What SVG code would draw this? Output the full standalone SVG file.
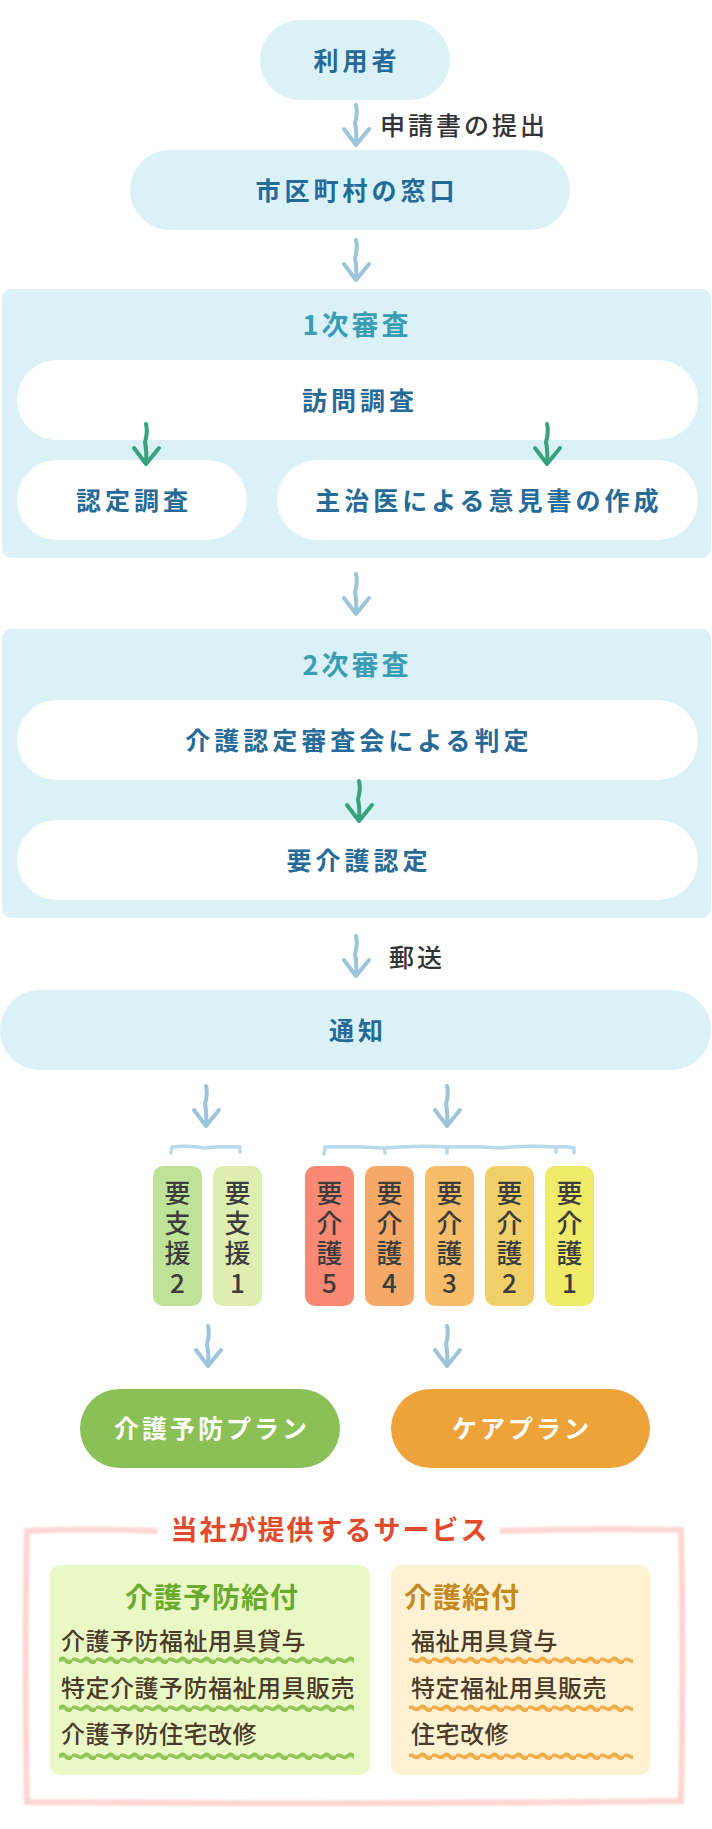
<svg xmlns="http://www.w3.org/2000/svg" width="712" height="1829" viewBox="0 0 712 1829">
<style>
text{font-family:"Noto Sans CJK JP","Noto Sans",sans-serif;}
.lbl{font-size:25px;font-weight:700;fill:#266a97;letter-spacing:4px;text-anchor:middle;}
.side{font-size:25px;font-weight:500;fill:#333333;letter-spacing:3px;}
.ttl{font-size:27px;font-weight:700;fill:#3a9db4;letter-spacing:3px;text-anchor:middle;}
.pale{fill:#d9f1f7;}
.white{fill:#ffffff;}
.card{font-size:26px;font-weight:500;fill:#3c3c3c;writing-mode:vertical-rl;text-orientation:upright;}
.plan{font-size:25px;font-weight:700;fill:#ffffff;letter-spacing:3px;text-anchor:middle;}
.item{font-size:24px;font-weight:500;fill:#4b3b28;letter-spacing:0.5px;}
.arB{fill:none;stroke:#9cc4da;stroke-width:4;stroke-linecap:round;stroke-linejoin:round;filter:url(#soft);}
.arG{fill:none;stroke:#37a27b;stroke-width:4;stroke-linecap:round;stroke-linejoin:round;filter:url(#soft);}
.brk{fill:none;stroke:#b9d8ea;stroke-width:3.5;stroke-linecap:round;stroke-linejoin:round;filter:url(#soft);}
</style>
<defs>
<filter id="soft" x="-50%" y="-50%" width="200%" height="200%"><feGaussianBlur stdDeviation="0.7"/></filter>
<filter id="soft2" x="-10%" y="-10%" width="120%" height="120%"><feGaussianBlur stdDeviation="1.1"/></filter>
<pattern id="waveG" width="24" height="8" patternUnits="userSpaceOnUse"><path d="M0,4 Q3,2.3 6,4.4 T12,3.6 T18,4.6 T24,4" fill="none" stroke="#8dc352" stroke-width="3.6"/><path d="M0,4.5 Q4,3 8,4 T16,4.6 T24,4.5" fill="none" stroke="#9ccc62" stroke-width="2" opacity="0.7"/></pattern>
<pattern id="waveO" width="24" height="8" patternUnits="userSpaceOnUse"><path d="M0,4 Q3,2.3 6,4.4 T12,3.6 T18,4.6 T24,4" fill="none" stroke="#f1a944" stroke-width="3.6"/><path d="M0,4.5 Q4,3 8,4 T16,4.6 T24,4.5" fill="none" stroke="#f4b65c" stroke-width="2" opacity="0.7"/></pattern>
<path id="arrow" d="M0,0 Q2,8 -1,18 Q1,28 0,40 M-12,24 L0,40 L13,24"/>
</defs>

<rect width="712" height="1829" fill="#ffffff"/>

<g id="user"><rect class="pale" x="260" y="20" width="190" height="80" rx="40"/><text class="lbl" x="357" y="69.5">利用者</text></g>
<g id="window"><rect class="pale" x="130" y="150" width="440" height="80" rx="40"/><text class="lbl" x="357" y="199.5">市区町村の窓口</text></g>

<g id="review1">
<rect class="pale" x="2" y="289" width="709" height="269" rx="9"/>
<text class="ttl" x="357" y="335">1次審査</text>
<g id="visit"><rect class="white" x="17" y="360" width="681" height="80" rx="40"/><text class="lbl" x="360" y="409.5">訪問調査</text></g>
<g id="nintei"><rect class="white" x="17" y="460" width="230" height="80" rx="40"/><text class="lbl" x="134" y="509.5">認定調査</text></g>
<g id="doctor"><rect class="white" x="277" y="460" width="421" height="80" rx="40"/><text class="lbl" x="489" y="509.5">主治医による意見書の作成</text></g>
</g>

<g id="review2">
<rect class="pale" x="2" y="629" width="709" height="289" rx="9"/>
<text class="ttl" x="357" y="675">2次審査</text>
<g id="judge"><rect class="white" x="17" y="700" width="681" height="80" rx="40"/><text class="lbl" x="359" y="749.5">介護認定審査会による判定</text></g>
<g id="certified"><rect class="white" x="17" y="820" width="681" height="80" rx="40"/><text class="lbl" x="359" y="869.5">要介護認定</text></g>
</g>

<g id="notice"><rect class="pale" x="0" y="990" width="711" height="80" rx="40"/><text class="lbl" x="358" y="1039.5">通知</text></g>

<g id="levels">
<g id="shien2"><rect x="153" y="1166" width="49" height="140" rx="10" fill="#bee298"/><text class="card" x="177.5" y="1180">要</text><text class="card" x="177.5" y="1210">支</text><text class="card" x="177.5" y="1240">援</text><text class="card" x="177.5" y="1270">2</text></g>
<g id="shien1"><rect x="213" y="1166" width="49" height="140" rx="10" fill="#dfeeb0"/><text class="card" x="237.5" y="1180">要</text><text class="card" x="237.5" y="1210">支</text><text class="card" x="237.5" y="1240">援</text><text class="card" x="237.5" y="1270">1</text></g>
<g id="kaigo5"><rect x="305" y="1166" width="49" height="140" rx="10" fill="#fc8973"/><text class="card" x="329.5" y="1180">要</text><text class="card" x="329.5" y="1210">介</text><text class="card" x="329.5" y="1240">護</text><text class="card" x="329.5" y="1270">5</text></g>
<g id="kaigo4"><rect x="365" y="1166" width="49" height="140" rx="10" fill="#f6a866"/><text class="card" x="389.5" y="1180">要</text><text class="card" x="389.5" y="1210">介</text><text class="card" x="389.5" y="1240">護</text><text class="card" x="389.5" y="1270">4</text></g>
<g id="kaigo3"><rect x="425" y="1166" width="49" height="140" rx="10" fill="#f7bd69"/><text class="card" x="449.5" y="1180">要</text><text class="card" x="449.5" y="1210">介</text><text class="card" x="449.5" y="1240">護</text><text class="card" x="449.5" y="1270">3</text></g>
<g id="kaigo2"><rect x="485" y="1166" width="49" height="140" rx="10" fill="#f1d06a"/><text class="card" x="509.5" y="1180">要</text><text class="card" x="509.5" y="1210">介</text><text class="card" x="509.5" y="1240">護</text><text class="card" x="509.5" y="1270">2</text></g>
<g id="kaigo1"><rect x="545" y="1166" width="49" height="140" rx="10" fill="#efea67"/><text class="card" x="569.5" y="1180">要</text><text class="card" x="569.5" y="1210">介</text><text class="card" x="569.5" y="1240">護</text><text class="card" x="569.5" y="1270">1</text></g>
</g>

<g id="preventPlan"><rect x="80" y="1389" width="260" height="79" rx="39.5" fill="#8bc056"/><text class="plan" x="212" y="1437.5">介護予防プラン</text></g>
<g id="carePlan"><rect x="391" y="1389" width="259" height="79" rx="39.5" fill="#eda33a"/><text class="plan" x="522" y="1437.5">ケアプラン</text></g>

<g id="services">
<path d="M155,1531 Q90,1528 27,1531 Q24,1660 27,1802 Q350,1805 681,1801 Q684,1660 681,1530 Q590,1528 502,1531" fill="none" stroke="#fdd6d2" stroke-width="6" stroke-linecap="round" filter="url(#soft2)"/>
<text x="330" y="1540" font-size="27" font-weight="700" fill="#e34a2c" letter-spacing="2" text-anchor="middle">当社が提供するサービス</text>
<g id="preventBenefit">
<rect x="50" y="1565" width="320" height="210" rx="10" fill="#eaf8c6"/>
<text x="212" y="1608" font-size="28" font-weight="700" fill="#6aab2d" letter-spacing="1" text-anchor="middle">介護予防給付</text>
<text class="item" x="61" y="1650">介護予防福祉用具貸与</text>
<rect x="59" y="1656" width="295" height="8" fill="url(#waveG)" filter="url(#soft)"/>
<text class="item" x="61" y="1697">特定介護予防福祉用具販売</text>
<rect x="59" y="1704" width="295" height="8" fill="url(#waveG)" filter="url(#soft)"/>
<text class="item" x="61" y="1743">介護予防住宅改修</text>
<rect x="59" y="1752" width="295" height="8" fill="url(#waveG)" filter="url(#soft)"/>
</g>
<g id="careBenefit">
<rect x="391" y="1565" width="259" height="210" rx="10" fill="#fff2d3"/>
<text x="404" y="1608" font-size="28" font-weight="700" fill="#c58a1e" letter-spacing="1">介護給付</text>
<text class="item" x="411" y="1650">福祉用具貸与</text>
<rect x="409" y="1656" width="224" height="8" fill="url(#waveO)" filter="url(#soft)"/>
<text class="item" x="411" y="1697">特定福祉用具販売</text>
<rect x="409" y="1704" width="224" height="8" fill="url(#waveO)" filter="url(#soft)"/>
<text class="item" x="411" y="1743">住宅改修</text>
<rect x="409" y="1752" width="224" height="8" fill="url(#waveO)" filter="url(#soft)"/>
</g>
</g>

<g id="connectors">
<use href="#arrow" class="arB" x="356" y="105"/>
<text class="side" x="380" y="134.5">申請書の提出</text>
<use href="#arrow" class="arB" x="356" y="240"/>
<use href="#arrow" class="arG" x="146" y="424"/>
<use href="#arrow" class="arG" x="547" y="424"/>
<use href="#arrow" class="arB" x="356" y="574"/>
<use href="#arrow" class="arG" x="359" y="781"/>
<use href="#arrow" class="arB" x="356" y="936"/>
<text class="side" x="389" y="966.5">郵送</text>
<use href="#arrow" class="arB" x="206" y="1086"/>
<use href="#arrow" class="arB" x="447" y="1086"/>
<path class="brk" d="M171,1153 L172,1147 Q190,1145 205,1148 Q222,1146 240,1147 L240,1152"/>
<path class="brk" d="M324,1154 L325,1147 Q350,1146 384,1148 L385,1153 M385,1148 Q420,1145 447,1147 L447,1153 M447,1147 Q475,1146 500,1148 Q530,1145 556,1147 L556,1152 M556,1147 Q566,1146 574,1148 L574,1153"/>
<use href="#arrow" class="arB" x="208" y="1326"/>
<use href="#arrow" class="arB" x="447" y="1326"/>
</g>
</svg>
